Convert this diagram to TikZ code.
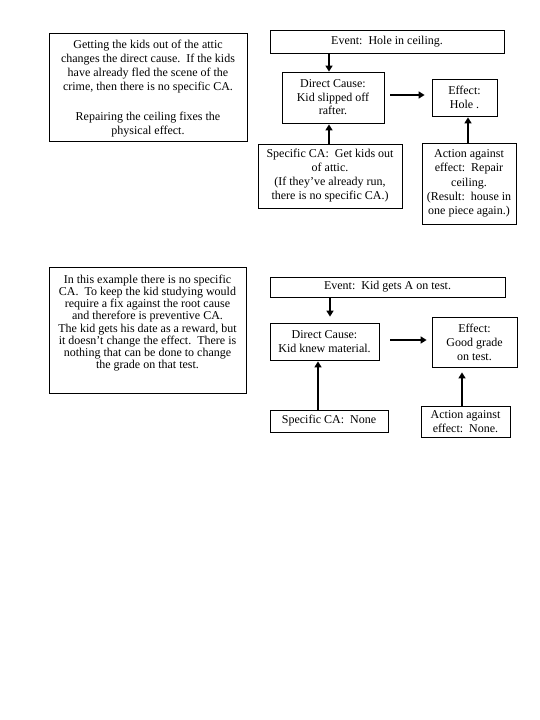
\documentclass[tikz,border=0pt]{standalone}
\usepackage{fontspec}
\setmainfont{Liberation Serif}
\usetikzlibrary{arrows.meta}
\begin{document}
\begin{tikzpicture}[x=1pt,y=-1pt,
  box/.style={draw,line width=0.8pt,align=center,inner sep=0pt,font=\fontsize{12}{13.5}\selectfont},
  plain/.style={align=center,inner sep=0pt},
  arr/.style={line width=2.2pt,-{Triangle[width=7pt,length=6pt]}}]
\useasboundingbox[fill=white] (0,0) rectangle (540,720);
% Panel 1
\node[box,minimum width=198pt,minimum height=108pt] (note1) at (148,87) {};
\node[plain,font=\fontsize{12}{14}\selectfont] (note1t) at (148,89)
  {Getting the kids out of the attic\\changes the direct cause.\ \ If the kids\\have already fled the scene of the\\crime, then there is no specific CA.\\[16pt]Repairing the ceiling fixes the\\physical effect.};
\node[box,minimum width=234pt,minimum height=23pt] (ev1) at (387,41.5) {Event:\ \ Hole in ceiling.};
\node[box,minimum width=102pt,minimum height=51pt] (dc1) at (333,97.5) {Direct Cause:\\Kid slipped off\\rafter.};
\node[box,minimum width=65pt,minimum height=37pt] (ef1) at (464.5,97.5) {Effect:\\Hole .};
\node[box,minimum width=144pt,minimum height=64pt,font=\fontsize{12}{14}\selectfont] (sca1) at (330,176) {Specific CA:\ \ Get kids out\\of attic.\\(If they’ve already run,\\there is no specific CA.)};
\node[box,minimum width=94pt,minimum height=81pt,font=\fontsize{12}{14.2}\selectfont] (act1) at (469,183.5) {Action against\\effect:\ \ Repair\\ceiling.\\(Result:\ \ house in\\one piece again.)};
\coordinate (p1a) at ([xshift=-4pt]dc1.north);
\coordinate (p1b) at ([xshift=6pt,yshift=2.5pt]dc1.east);
\coordinate (p1c) at ([xshift=-4pt,yshift=-1pt]dc1.south);
\draw[arr] (ev1.south -| p1a) -- (p1a);
\draw[arr] (p1b) -- ([xshift=-7pt]ef1.west |- p1b);
\draw[arr] (sca1.north -| p1c) -- (p1c);
\draw[arr] ([xshift=-1pt]act1.north) -- ([xshift=-1pt,yshift=-1pt]act1.north |- ef1.south);
% Panel 2
\node[box,minimum width=197pt,minimum height=126pt] (note2) at (147.5,330.5) {};
\node[plain,font=\fontsize{12}{12.2}\selectfont] (note2t) at (147.5,323)
  {In this example there is no specific\\CA.\ \ To keep the kid studying would\\require a fix against the root cause\\and therefore is preventive CA.\\The kid gets his date as a reward, but\\it doesn’t change the effect.\ \ There is\\nothing that can be done to change\\the grade on that test.};
\node[box,minimum width=235pt,minimum height=20pt] (ev2) at (387.5,287) {Event:\ \ Kid gets A on test.};
\node[box,minimum width=109pt,minimum height=37pt] (dc2) at (324.5,341.5) {Direct Cause:\\Kid knew material.};
\node[box,minimum width=85pt,minimum height=50pt,font=\fontsize{12}{14}\selectfont] (ef2) at (474.5,342) {Effect:\\Good grade\\on test.};
\node[box,minimum width=118pt,minimum height=22pt] (sca2) at (329,421) {Specific CA:\ \ None};
\node[box,minimum width=89pt,minimum height=31pt] (act2) at (465.5,421.5) {Action against\\effect:\ \ None.};
\coordinate (p2a) at ([xshift=5.5pt,yshift=6pt]dc2.north);
\coordinate (p2b) at ([xshift=11pt,yshift=1.5pt]dc2.east);
\coordinate (p2c) at ([xshift=-6.5pt,yshift=-1pt]dc2.south);
\draw[arr] (ev2.south -| p2a) -- (p2a);
\draw[arr] (p2b) -- ([xshift=-5pt]ef2.west |- p2b);
\draw[arr] (sca2.north -| p2c) -- (p2c);
\draw[arr] ([xshift=-3.5pt]act2.north) -- ([xshift=-3.5pt,yshift=-5pt]act2.north |- ef2.south);
\end{tikzpicture}
\end{document}
